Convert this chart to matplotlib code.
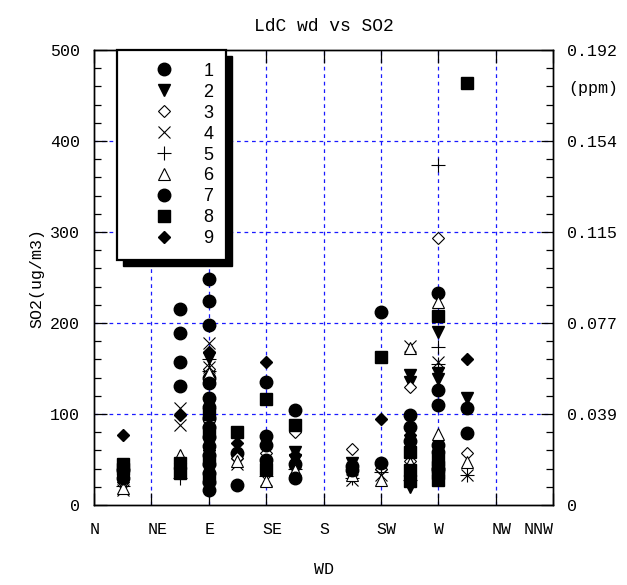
import matplotlib
matplotlib.use('Agg')
import matplotlib.pyplot as plt
import matplotlib.transforms as mtransforms
from matplotlib.patches import Rectangle

# wind direction (deg) and SO2 (ug/m3) for each of the 9 series
wd1 = [22.5, 67.5, 67.5, 90, 90, 90, 90, 90, 90, 90, 90, 90, 112.5, 135, 135,
       157.5, 157.5, 202.5, 225, 247.5, 270, 270, 270, 292.5]
so2_1 = [38, 215, 157, 248, 198, 140, 118, 96, 75, 55, 35, 16, 57, 135, 76,
         104, 45, 43, 212, 99, 233, 126, 66, 107]

wd2 = [22.5, 67.5, 90, 90, 90, 112.5, 135, 157.5, 157.5, 202.5, 247.5, 247.5,
       247.5, 270, 270, 270, 292.5]
so2_2 = [33, 40, 162, 110, 70, 50, 45, 58, 50, 46, 143, 135, 20, 190, 145, 138, 118]

wd3 = [22.5, 67.5, 90, 90, 112.5, 135, 157.5, 202.5, 225, 247.5, 247.5, 270, 292.5]
so2_3 = [25, 45, 150, 92, 52, 57, 80, 61, 40, 130, 48, 293, 57]

wd4 = [22.5, 67.5, 67.5, 90, 90, 112.5, 135, 157.5, 202.5, 225, 247.5, 270, 270, 292.5]
so2_4 = [17, 107, 88, 178, 152, 45, 28, 35, 27, 33, 175, 157, 40, 33]

wd5 = [22.5, 67.5, 90, 90, 135, 157.5, 202.5, 225, 247.5, 270, 270, 270, 292.5]
so2_5 = [21, 30, 160, 147, 32, 40, 30, 36, 28, 374, 174, 155, 33]

wd6 = [22.5, 67.5, 90, 112.5, 135, 157.5, 202.5, 225, 247.5, 247.5, 270, 270, 292.5]
so2_6 = [19, 55, 145, 48, 26, 38, 33, 28, 173, 46, 223, 78, 47]

wd7 = [22.5, 67.5, 67.5, 90, 90, 90, 90, 90, 90, 90, 112.5, 135, 135, 157.5,
       202.5, 225, 247.5, 247.5, 270, 270, 270, 292.5]
so2_7 = [30, 189, 131, 224, 134, 108, 86, 65, 45, 25, 22, 66, 50, 30,
         38, 46, 86, 70, 110, 58, 40, 79]

wd8 = [22.5, 22.5, 67.5, 67.5, 90, 90, 90, 90, 112.5, 135, 135, 157.5, 225,
       247.5, 247.5, 247.5, 270, 270, 270, 270, 270, 292.5]
so2_8 = [45, 40, 46, 35, 100, 80, 50, 30, 80, 116, 40, 88, 163,
         58, 38, 26, 208, 50, 42, 35, 28, 464]

wd9 = [22.5, 67.5, 90, 90, 112.5, 135, 157.5, 225, 247.5, 247.5, 292.5]
so2_9 = [77, 99, 168, 60, 68, 157, 55, 95, 77, 64, 160]

dir_ticks = [0, 45, 90, 135, 180, 225, 270, 315, 360]
dir_label_pos = [0, 45, 90, 135, 180, 225, 270, 315, 340]
dir_labels = ['N', 'NE', 'E', 'SE', 'S', 'SW', 'W', 'NW', 'NNW']
so2_ticks = [0, 100, 200, 300, 400, 500]
ppm_labels = ['0', '0.039', '0.077', '0.115', '0.154', '0.192']

plt.rcParams['font.family'] = ['Liberation Mono', 'DejaVu Sans Mono']

fig = plt.figure(figsize=(6.27, 5.85), dpi=100)
ax = fig.add_axes([94 / 627, 80 / 585, 459 / 627, 455 / 585])

styles = [
    dict(marker='o', ms=9, mfc='k', mec='k'),
    dict(marker='v', ms=9, mfc='k', mec='k'),
    dict(marker='D', ms=6.5, mfc='white', mec='k', mew=0.8),
    dict(marker='x', ms=8.5, mec='k', mew=0.8),
    dict(marker='+', ms=9.5, mec='k', mew=0.8),
    dict(marker='^', ms=8.5, mfc='white', mec='k', mew=0.8),
    dict(marker='o', ms=9, mfc='k', mec='k'),
    dict(marker='s', ms=8.5, mfc='k', mec='k'),
    dict(marker='D', ms=6.5, mfc='k', mec='k'),
]
series = [(wd1, so2_1), (wd2, so2_2), (wd3, so2_3), (wd4, so2_4), (wd5, so2_5),
          (wd6, so2_6), (wd7, so2_7), (wd8, so2_8), (wd9, so2_9)]

handles = []
for i, ((x, y), st) in enumerate(zip(series, styles)):
    h, = ax.plot(x, y, linestyle='none', label=str(i + 1), zorder=3, **st)
    handles.append(h)

ax.set_xlim(0, 360)
ax.set_ylim(0, 500)

# grid
for gx in dir_ticks[1:-1]:
    ax.axvline(gx, color='#1a1aff', lw=0.9, dashes=(3, 3), zorder=1)
for gy in so2_ticks[1:-1]:
    ax.axhline(gy, color='#1a1aff', lw=0.9, dashes=(3, 3), zorder=1)

ax.xaxis.remove_overlapping_locs = False
ax.set_xticks(dir_ticks)
ax.set_xticklabels([''] * len(dir_ticks))
ax.set_xticks(dir_label_pos, dir_labels, minor=True)
ax.tick_params(axis='x', which='major', direction='in', length=9, top=True, width=0.9)
ax.tick_params(axis='x', which='minor', length=0, pad=12, labelsize=12)
shift = mtransforms.ScaledTranslation(-4 / 100, 0, fig.dpi_scale_trans)
for lbl in ax.get_xticklabels(minor=True):
    lbl.set_ha('left')
    lbl.set_transform(lbl.get_transform() + shift)

ax.set_yticks(so2_ticks)
ax.set_yticks(range(0, 501, 20), minor=True)
ax.tick_params(axis='y', which='major', direction='in', length=9, width=0.9,
               labelsize=12, pad=10)
ax.tick_params(axis='y', which='minor', direction='in', length=5, width=0.9)

ax2 = ax.twinx()
ax2.set_ylim(0, 500)
ax2.set_yticks(so2_ticks, ppm_labels)
ax2.set_yticks(range(0, 501, 20), minor=True)
ax2.tick_params(axis='y', which='major', direction='in', length=9, width=0.9,
                labelsize=12, pad=10)
ax2.tick_params(axis='y', which='minor', direction='in', length=5, width=0.9)
ax2.text(1.033, 458, '(ppm)', transform=ax2.get_yaxis_transform(),
         ha='left', va='center', fontsize=12)

for a in (ax, ax2):
    for s in a.spines.values():
        s.set_linewidth(1.0)

ax.set_title('LdC wd vs SO2', fontsize=13, pad=14)
ax.set_xlabel('WD', fontsize=12, labelpad=18)
ax.set_ylabel('SO2(ug/m3)', fontsize=12, labelpad=4)

leg = ax2.legend(handles, [h.get_label() for h in handles],
                 loc='upper left', bbox_to_anchor=(0.05, 1.0), borderaxespad=0,
                 fancybox=False, framealpha=1, edgecolor='k', handletextpad=0.3,
                 labelspacing=0.22, borderpad=0.7, handlelength=3.8,
                 prop={'family': 'Liberation Sans', 'size': 13})
leg.get_frame().set_linewidth(1.6)
leg.set_zorder(10)

# heavy drop shadow under the legend box
fig.canvas.draw()
bb = leg.get_window_extent()
off = 6
shadow = Rectangle((bb.x0 + off, bb.y0 - off), bb.width, bb.height,
                   transform=mtransforms.IdentityTransform(),
                   facecolor='k', edgecolor='k', zorder=9)
ax2.add_artist(shadow)

fig.savefig('out.png', dpi=100)
